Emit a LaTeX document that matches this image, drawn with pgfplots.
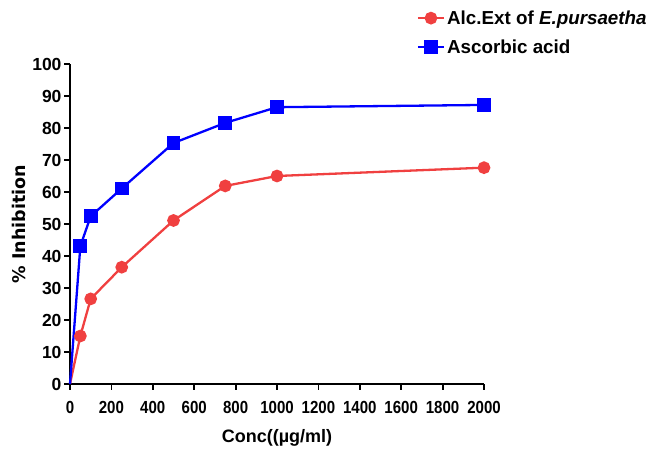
\documentclass[border=0pt]{standalone}
\usepackage{pgfplots}
\pgfplotsset{compat=1.18}
\usepackage{fontspec}
\setmainfont{Liberation Sans}
\newfontfamily\xtfont{Liberation Sans}[FakeStretch=0.86]
\newfontfamily\ylfont{DejaVu Sans}
\definecolor{myred}{RGB}{240,64,64}
\definecolor{myblue}{RGB}{0,0,255}
\begin{document}
\begin{tikzpicture}[x=1bp,y=1bp]
\useasboundingbox (0,0) rectangle (649,452);
\begin{axis}[
  at={(70bp,68bp)}, anchor=south west,
  scale only axis, width=414bp, height=320bp,
  xmin=0, xmax=2000, ymin=0, ymax=100,
  axis lines*=left,
  axis line style={line width=2bp, -},
  xtick={0,200,...,2000}, ytick={0,10,...,100},
  tick style={line width=1.8bp, black},
  tick align=outside, major tick length=6bp,
  /pgf/number format/assume math mode=true,
  /pgf/number format/1000 sep={},
  yticklabel style={font=\fontsize{17.5bp}{19bp}\selectfont\bfseries, xshift=1bp},
  xticklabel style={font=\xtfont\fontsize{17.5bp}{19bp}\selectfont\bfseries, yshift=-8bp},
  xlabel={Conc((µg/ml)},
  ylabel={\% Inhibition},
  xlabel style={font=\fontsize{18bp}{20bp}\selectfont\bfseries, at={(axis description cs:0.5,-0.168)}, anchor=center},
  ylabel style={font=\ylfont\fontsize{17.5bp}{20bp}\selectfont\bfseries, at={(axis description cs:-0.123,0.5)}, anchor=center},
  legend style={at={(0.83,1.18)}, anchor=north west, draw=none, fill=none,
    font=\fontsize{18.8bp}{20bp}\selectfont\bfseries, row sep=10bp},
  legend cell align=left,
  legend image code/.code={\draw[#1, mark indices={2}] plot coordinates {(0bp,0bp) (13bp,0bp) (26bp,0bp)};},
  clip=false,
]
\addplot[color=myred, line width=2.3bp, mark=*, mark size=5.2bp, mark indices={2,...,8}, mark options={fill=myred, draw=myred}]
  coordinates {(0,0) (50,15.0) (100,26.6) (250,36.5) (500,51.1) (750,61.9) (1000,65.0) (2000,67.6)};
\addlegendentry{Alc.Ext of \textit{E.pursaetha}}
\addplot[color=myblue, line width=2.3bp, mark=square*, mark size=5.8bp, mark indices={2,...,8}, mark options={fill=myblue, draw=myblue}]
  coordinates {(0,0) (50,43.1) (100,52.4) (250,61.1) (500,75.3) (750,81.6) (1000,86.5) (2000,87.2)};
\addlegendentry{Ascorbic acid}
\end{axis}
\end{tikzpicture}
\end{document}
